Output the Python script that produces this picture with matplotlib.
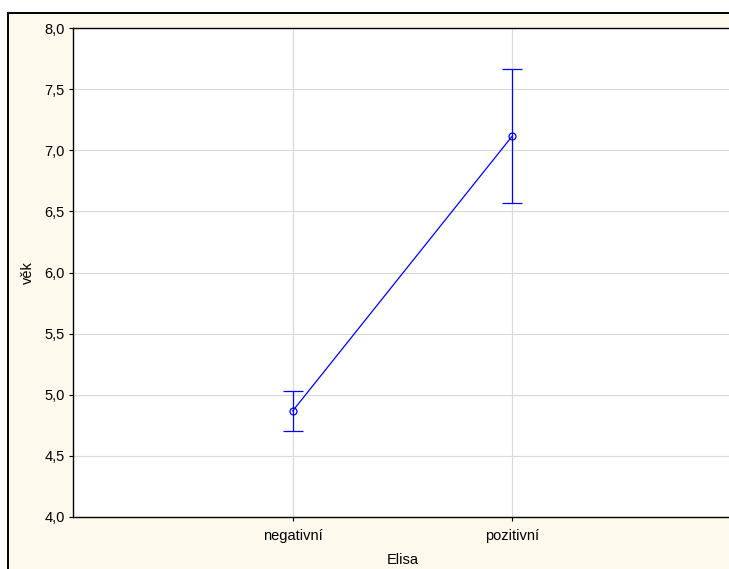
import matplotlib.pyplot as plt
from matplotlib.patches import Rectangle
from matplotlib.ticker import FuncFormatter

plt.rcParams['font.family'] = ['Liberation Sans', 'DejaVu Sans']

skupiny = ['negativní', 'pozitivní']
prumer = [4.866, 7.118]
chyba = [0.164, 0.547]
yticks = [4.0, 4.5, 5.0, 5.5, 6.0, 6.5, 7.0, 7.5, 8.0]

W, H = 729, 569
fig = plt.figure(figsize=(W / 100, H / 100), dpi=100, facecolor='white')

# cream background panel with black frame (cropped at right/bottom)
fig.patches.append(Rectangle((8 / W, -0.1), 1.2, 1 - 12.5 / H + 0.1,
                             transform=fig.transFigure, facecolor='#fef9ed',
                             edgecolor='black', linewidth=1.4, zorder=-5))

left, right = 73 / W, 732 / W
bottom, top = 1 - 516.7 / H, 1 - 28.3 / H
ax = fig.add_axes([left, bottom, right - left, top - bottom])
ax.set_zorder(1)
ax.set_facecolor('white')

x = [1, 2]
ax.errorbar(x, prumer, yerr=chyba, color='#0000ff', lw=0.9, elinewidth=0.9,
            capsize=7.5, capthick=0.9, marker='o', markersize=5,
            markerfacecolor='none', markeredgecolor='#0000ff',
            markeredgewidth=0.9, zorder=3)

ax.set_xlim(0, 3)
ax.set_ylim(4.0, 8.0)
ax.set_xticks(x)
ax.set_xticklabels(skupiny)
ax.set_yticks(yticks)
ax.yaxis.set_major_formatter(FuncFormatter(lambda v, p: f'{v:.1f}'.replace('.', ',')))
ax.grid(True, color='#d9d9d9', lw=0.8)
ax.set_axisbelow(True)
ax.tick_params(direction='out', length=3, width=0.8, labelsize=10.5)
ax.tick_params(axis='x', pad=6)
ax.tick_params(axis='y', pad=3)

for s in ax.spines.values():
    s.set_linewidth(1.0)

ax.set_xlabel('Elisa', fontsize=10.5, labelpad=7)
ax.set_ylabel('věk', fontsize=10.5, labelpad=7)

fig.savefig('out.png', dpi=100)
